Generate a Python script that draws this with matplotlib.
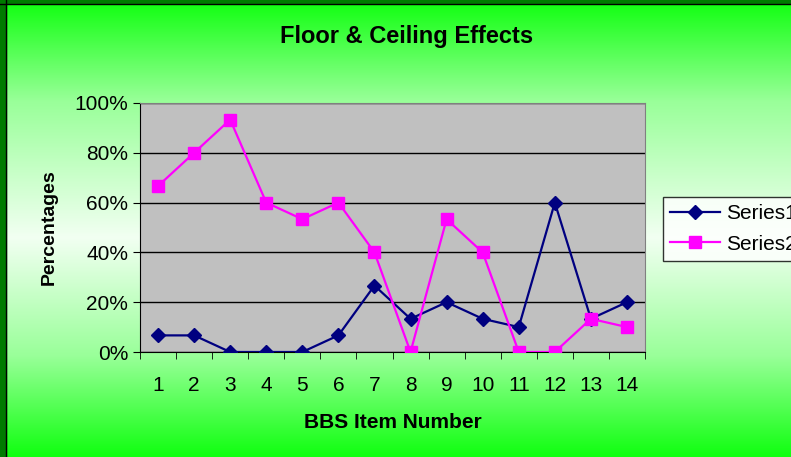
import numpy as np
import matplotlib.pyplot as plt
from matplotlib.colors import LinearSegmentedColormap

plt.rcParams['font.family'] = ['Liberation Sans', 'DejaVu Sans']

# Porcentajes por ítem de la escala BBS
items = list(range(1, 15))
series1 = [6.67, 6.67, 0, 0, 0, 6.67, 26.67, 13.33, 20, 13.33, 10, 60, 13.33, 20]
series2 = [66.67, 80, 93.33, 60, 53.33, 60, 40, 0, 53.33, 40, 0, 0, 13.33, 10]
y_ticks = [0, 20, 40, 60, 80, 100]

fig = plt.figure(figsize=(7.91, 4.57), dpi=100)

# fondo con degradado verde - blanco - verde
bg = fig.add_axes([0, 0, 1, 1], zorder=-10)
cmap = LinearSegmentedColormap.from_list(
    'verde', [(0.0, '#10ff10'), (0.22, '#99ff99'), (0.52, '#f2fff2'),
              (0.78, '#99ff99'), (1.0, '#10ff10')])
bg.imshow(np.linspace(0, 1, 256).reshape(-1, 1), cmap=cmap, aspect='auto',
          extent=[0, 1, 0, 1], origin='upper')
bg.set_xlim(0, 1)
bg.set_ylim(0, 1)
bg.axis('off')
# borde verde oscuro arriba e izquierda
bg.axvspan(0, 6/791, color='#007a00')
bg.axhspan(1 - 3/457, 1, color='#007a00')
bg.axvline(6.5/791, color='black', lw=1)
bg.axhline(1 - 3.5/457, color='black', lw=1)

ax = fig.add_axes([140/791, 105/457, 505/791, 249/457])
ax.set_facecolor('#c0c0c0')
x = np.arange(len(items))
ax.plot(x, series1, color='#000080', marker='D', markersize=7, lw=1.6,
        label='Series1', zorder=3)
ax.plot(x, series2, color='#ff00ff', marker='s', markersize=8, lw=1.6,
        label='Series2', zorder=3)

ax.set_xlim(-0.5, len(items) - 0.5)
ax.set_ylim(0, 100)
ax.set_yticks(y_ticks)
ax.set_yticklabels([f'{v}%' for v in y_ticks])
ax.set_xticks(x)
ax.set_xticklabels([str(i) for i in items])
ax.set_xticks(np.arange(-0.5, len(items)), minor=True)
ax.tick_params(axis='x', which='major', length=0, pad=17, labelsize=15)
ax.tick_params(axis='x', which='minor', length=5, direction='out', color='black')
ax.tick_params(axis='y', length=5, direction='out', labelsize=15, color='black')
ax.grid(axis='y', color='black', lw=1)
ax.set_axisbelow(True)
for side in ['top', 'right']:
    ax.spines[side].set_color('#808080')
for side in ['left', 'bottom']:
    ax.spines[side].set_color('black')

ax.set_xlabel('BBS Item Number', fontsize=15, fontweight='bold', labelpad=13)
ax.set_ylabel('Percentages', fontsize=14, fontweight='bold', labelpad=12)
fig.text(407/791, 1 - 37/457, 'Floor & Ceiling Effects', fontsize=17,
         fontweight='bold', ha='center', va='center')

leg = ax.legend(loc='center left', bbox_to_anchor=(663/791, 228/457),
                bbox_transform=fig.transFigure, fontsize=15, frameon=True,
                fancybox=False, edgecolor='black', facecolor='white',
                handlelength=2.4, handletextpad=0.3, borderpad=0.35,
                borderaxespad=0, labelspacing=0.55)
leg.get_frame().set_linewidth(1)

plt.savefig('out.png', dpi=100)
